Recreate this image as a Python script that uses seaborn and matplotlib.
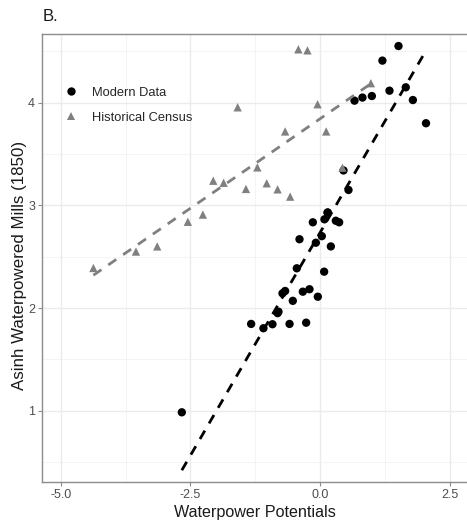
import matplotlib
matplotlib.use("Agg")
import matplotlib.pyplot as plt
import seaborn as sns
import pandas as pd
import numpy as np

# Modern estimates of waterpower potential vs. mills
modern_x = [-2.666, -1.33, -1.093, -0.919, -0.82, -0.803, -0.59, -0.27, -0.527,
            -0.726, -0.675, -0.334, -0.206, -0.045, -0.45, 0.077, -0.398, 0.206,
            -0.083, 0.032, -0.141, 0.083, 0.302, 0.366, 0.141, 0.148, 0.546,
            0.45, 0.662, 0.815, 0.996, 1.336, 1.65, 1.787, 2.04, 1.20, 1.51]
modern_y = [0.984, 1.845, 1.803, 1.842, 1.95, 1.964, 1.845, 1.857, 2.07,
            2.143, 2.166, 2.159, 2.183, 2.11, 2.387, 2.354, 2.67, 2.60,
            2.636, 2.70, 2.835, 2.864, 2.85, 2.835, 2.93, 2.93, 3.15,
            3.34, 4.02, 4.05, 4.065, 4.117, 4.15, 4.026, 3.80, 4.41, 4.552]

# Historical census counts
hist_x = [-4.37, -3.55, -3.14, -2.55, -2.26, -2.06, -1.86, -1.59, -1.43, -1.21,
          -1.03, -0.82, -0.675, -0.578, -0.42, -0.245, -0.05, 0.116, 0.43, 0.977]
hist_y = [2.39, 2.55, 2.60, 2.84, 2.91, 3.24, 3.22, 3.955, 3.16, 3.37,
          3.215, 3.156, 3.72, 3.085, 4.52, 4.51, 3.985, 3.72, 3.367, 4.19]

series_names = ["Modern Data", "Historical Census"]
series_colors = ["#000000", "#808080"]

df = pd.concat([
    pd.DataFrame({"x": modern_x, "y": modern_y, "source": series_names[0]}),
    pd.DataFrame({"x": hist_x, "y": hist_y, "source": series_names[1]}),
], ignore_index=True)

sns.set_theme(style="white")
plt.rcParams["font.family"] = ["Liberation Sans", "DejaVu Sans"]

fig = plt.figure(figsize=(4.67, 5.22), dpi=100)
ax = fig.add_axes([0.09, 0.0766, 0.91, 0.8592])

palette = dict(zip(series_names, series_colors))
markers = {series_names[0]: "o", series_names[1]: "^"}

sns.scatterplot(data=df, x="x", y="y", hue="source", style="source",
                palette=palette, markers=markers, s=36, linewidth=0,
                hue_order=series_names, style_order=series_names,
                ax=ax, zorder=3)

for name, col in zip(series_names, series_colors):
    sub = df[df["source"] == name]
    sns.regplot(data=sub, x="x", y="y", scatter=False, ci=None, ax=ax,
                line_kws=dict(color=col, lw=2.0, dashes=(3.5, 3.0), zorder=4))

ax.set_xlim(-5.36, 2.83)
ax.set_ylim(0.305, 4.674)
ax.set_xticks([-5.0, -2.5, 0.0, 2.5])
ax.set_xticklabels(["-5.0", "-2.5", "0.0", "2.5"])
ax.set_yticks([1, 2, 3, 4])
ax.set_xticks([-3.75, -1.25, 1.25], minor=True)
ax.set_yticks([0.5, 1.5, 2.5, 3.5, 4.5], minor=True)

ax.grid(True, which="major", color="#ebebeb", lw=1.0)
ax.grid(True, which="minor", color="#f2f2f2", lw=0.6)
ax.set_axisbelow(True)

for side in ["left", "top", "bottom"]:
    ax.spines[side].set_color("#8c8c8c")
    ax.spines[side].set_linewidth(1.0)
ax.spines["right"].set_visible(False)

ax.tick_params(axis="both", which="major", length=3, width=0.8, color="#8c8c8c",
               labelsize=9, labelcolor="#4d4d4d", pad=2, bottom=True, left=True)
ax.tick_params(axis="both", which="minor", length=0)

ax.set_xlabel("Waterpower Potentials", fontsize=11.6, color="#1a1a1a", labelpad=3)
ax.set_ylabel("Asinh Waterpowered Mills (1850)", fontsize=12.2, color="#1a1a1a")
ax.yaxis.set_label_coords(-0.036, 0.484)

leg = ax.legend(loc="upper left", bbox_to_anchor=(0.007, 0.91), frameon=False,
                fontsize=9.3, handletextpad=0.65, labelspacing=1.0,
                markerscale=1.0, borderaxespad=0.6)

fig.text(0.092, 0.969, "B.", fontsize=12, va="center", ha="left", color="#1a1a1a")

fig.savefig("out.png", dpi=100)
